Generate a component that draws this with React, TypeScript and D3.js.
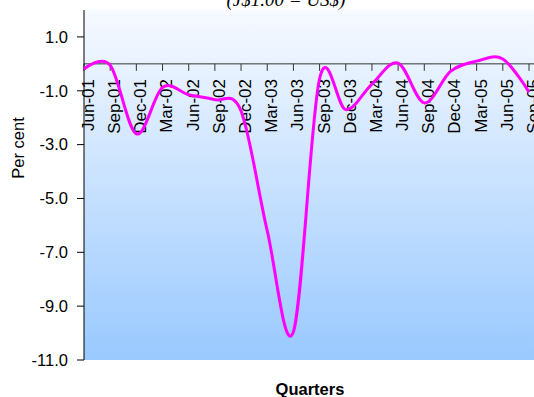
import React from "react";
import * as d3 from "d3";

// Quarterly percentage change
const quarters = [
  "Jun-01", "Sep-01", "Dec-01", "Mar-02", "Jun-02", "Sep-02",
  "Dec-02", "Mar-03", "Jun-03", "Sep-03", "Dec-03", "Mar-04",
  "Jun-04", "Sep-04", "Dec-04", "Mar-05", "Jun-05", "Sep-05",
];
const percentChange = [
  -0.2, -0.05, -2.6, -0.88, -1.15, -1.33,
  -1.75, -6.2, -9.95, -0.55, -1.7, -0.75,
  0.03, -1.45, -0.28, 0.1, 0.18, -1.05,
];
const yTicks = [1, -1, -3, -5, -7, -9, -11];
const titleText = "(J$1.00 = US$)";
const yTitle = "Per cent";
const xTitle = "Quarters";

const W = 534;
const H = 397;
const plot = { left: 84, right: 529, top: 10, bottom: 360 };
const font = "'Liberation Sans', Arial, sans-serif";

export default function App() {
  const x = d3
    .scalePoint<string>()
    .domain(quarters)
    .range([plot.left, plot.right]);
  const y = d3.scaleLinear().domain([-11, 2]).range([plot.bottom, plot.top]);

  const line = d3
    .line<number>()
    .x((_, i) => x(quarters[i]) as number)
    .y((d) => y(d))
    .curve(d3.curveCardinal.tension(0));

  const y0 = y(0);

  return (
    <svg
      width={W}
      height={H}
      style={{ position: "absolute", left: 0, top: 0 }}
    >
      <defs>
        <linearGradient id="plotBg" x1="0" y1="0" x2="0" y2="1">
          <stop offset="0%" stopColor="#f7faff" />
          <stop offset="100%" stopColor="#99c9ff" />
        </linearGradient>
      </defs>

      <text
        x={286}
        y={6}
        textAnchor="middle"
        fontFamily="'Liberation Serif', 'Times New Roman', serif"
        fontStyle="italic"
        fontSize={19}
        fill="#000"
      >
        {titleText}
      </text>

      <rect
        x={plot.left}
        y={plot.top}
        width={W - plot.left + 10}
        height={plot.bottom - plot.top}
        fill="url(#plotBg)"
      />

      {/* zero line with category ticks */}
      <line x1={plot.left} x2={W + 10} y1={y0} y2={y0} stroke="#333" strokeWidth={1} />
      {quarters.map((q) => (
        <line
          key={"t" + q}
          x1={x(q)}
          x2={x(q)}
          y1={y0}
          y2={y0 + 7}
          stroke="#333"
          strokeWidth={1}
        />
      ))}
      {quarters.map((q) => (
        <text
          key={"l" + q}
          transform={`translate(${(x(q) as number) + 4},79) rotate(-90)`}
          textAnchor="end"
          dy="0.35em"
          fontFamily={font}
          fontSize={17}
          fill="#000"
        >
          {q}
        </text>
      ))}

      {/* value axis */}
      <line
        x1={plot.left}
        x2={plot.left}
        y1={plot.top}
        y2={plot.bottom}
        stroke="#000"
        strokeWidth={1}
      />
      {yTicks.map((t) => (
        <g key={t}>
          <line
            x1={plot.left - 7}
            x2={plot.left}
            y1={y(t)}
            y2={y(t)}
            stroke="#000"
          />
          <text
            x={plot.left - 16}
            y={y(t)}
            dy="0.35em"
            textAnchor="end"
            fontFamily={font}
            fontSize={16.5}
            fill="#000"
          >
            {t.toFixed(1)}
          </text>
        </g>
      ))}

      <path
        d={line(percentChange) ?? ""}
        fill="none"
        stroke="#ff00ff"
        strokeWidth={3}
      />

      <text
        transform="translate(24,148) rotate(-90)"
        textAnchor="middle"
        fontFamily={font}
        fontSize={16.5}
        fill="#000"
      >
        {yTitle}
      </text>
      <text
        x={310}
        y={395}
        textAnchor="middle"
        fontFamily={font}
        fontSize={16.5}
        fontWeight="bold"
        fill="#000"
      >
        {xTitle}
      </text>
    </svg>
  );
}
